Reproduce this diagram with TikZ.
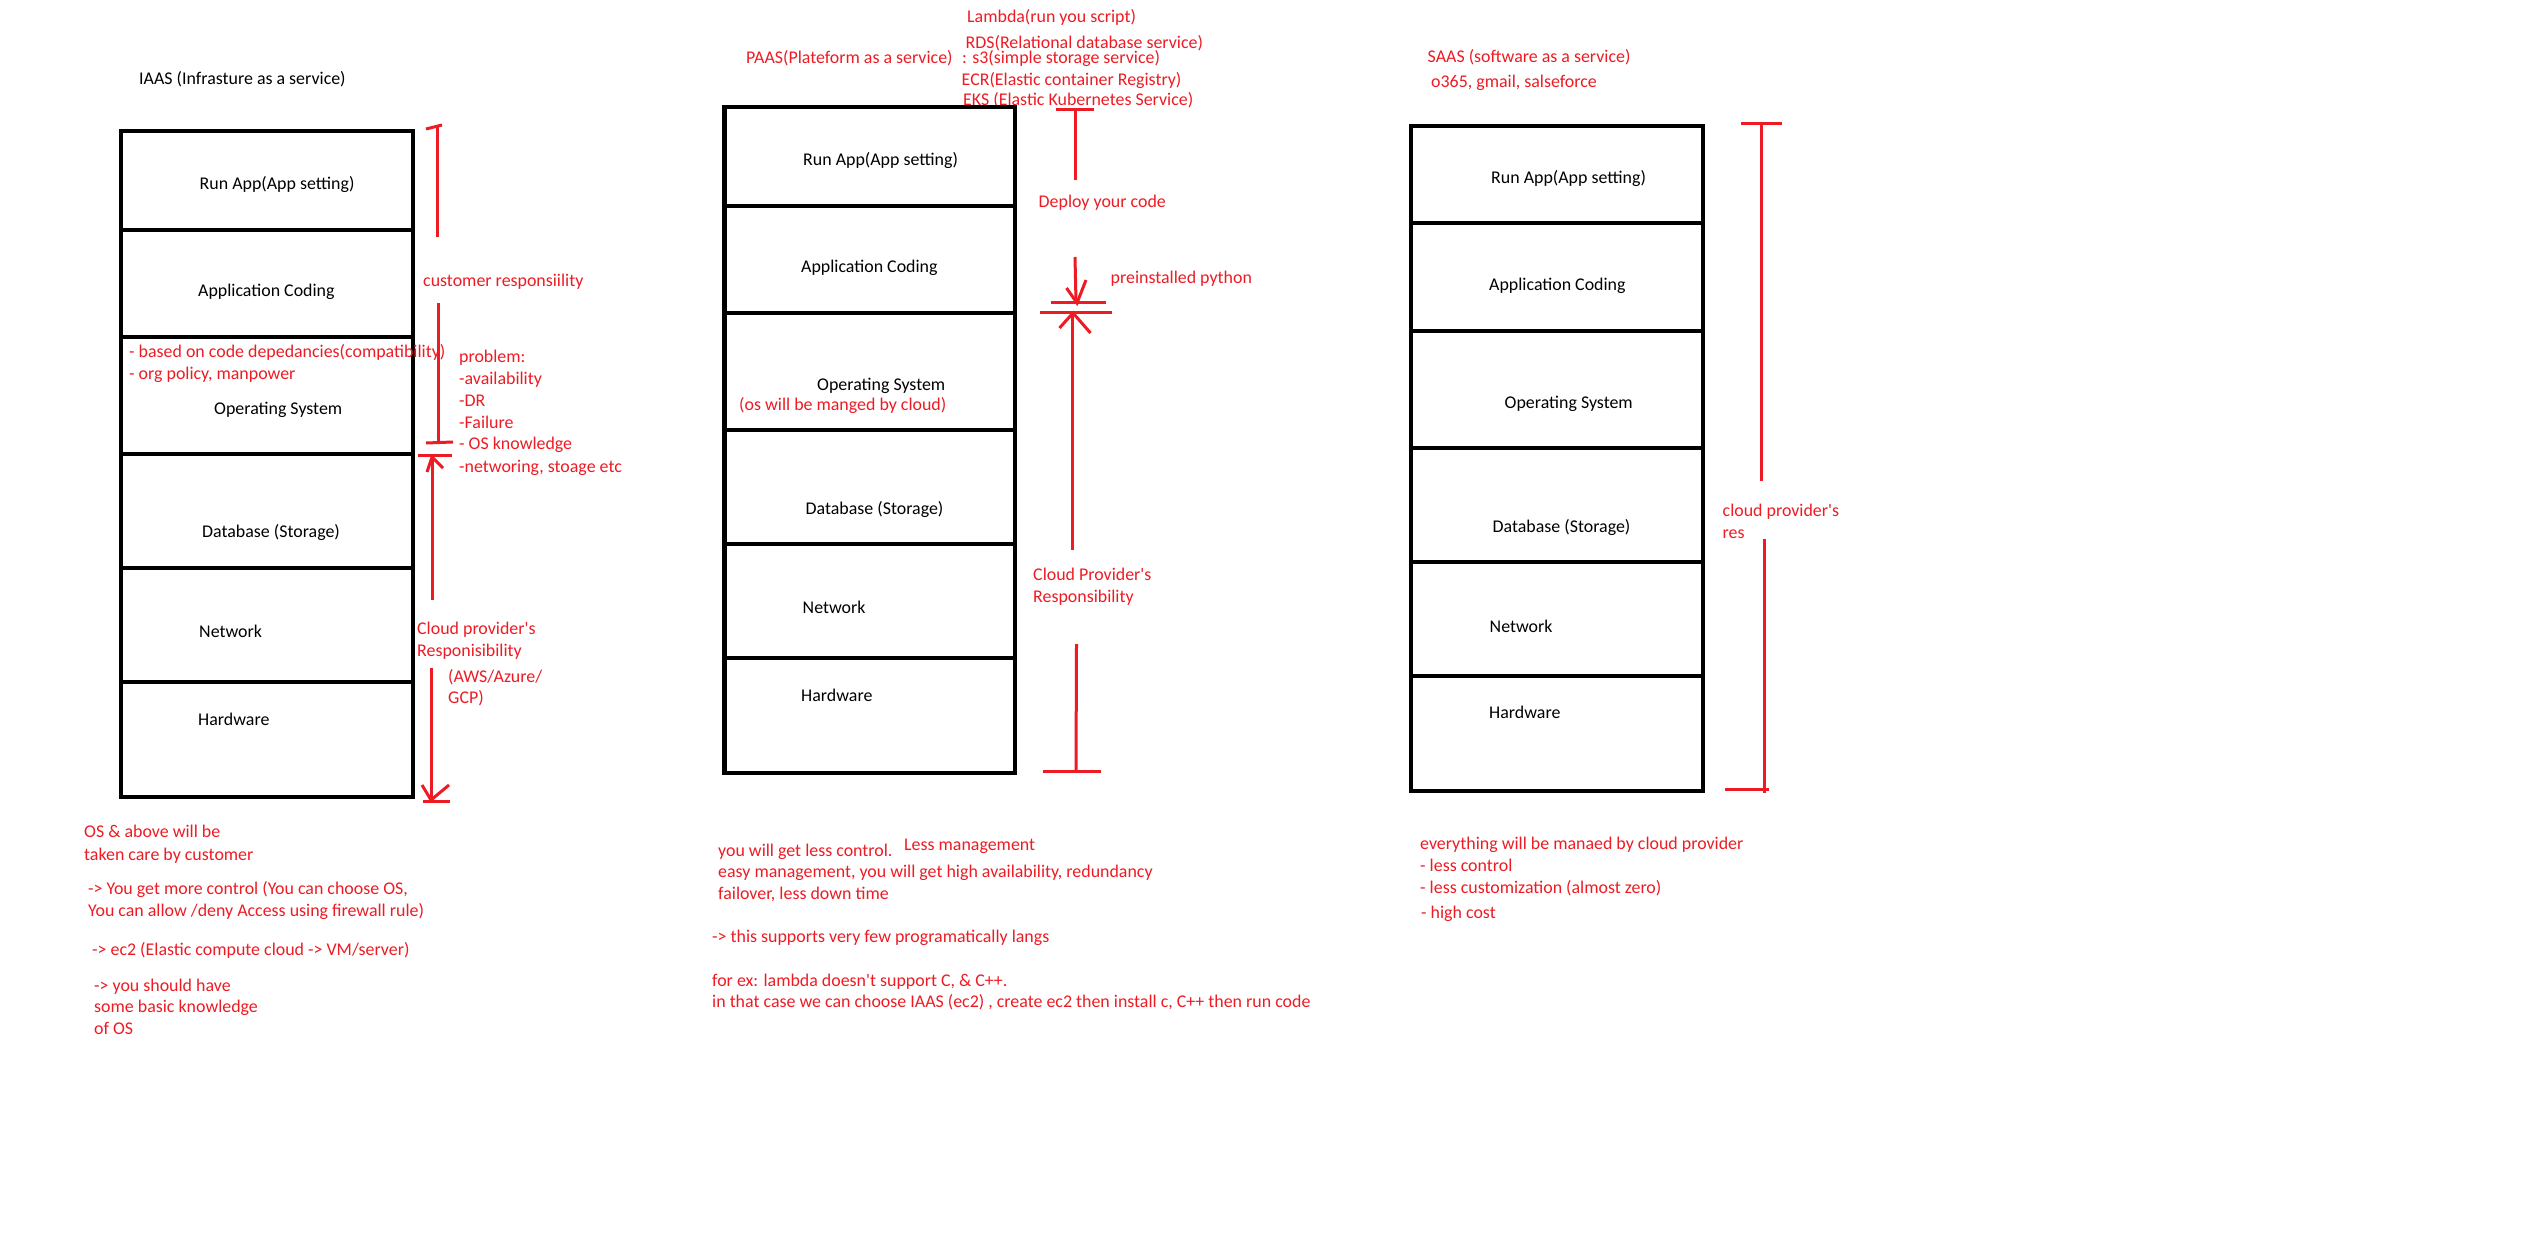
\documentclass[tikz,border=0pt]{standalone}
\usepackage{fontspec}
\setmainfont{Carlito}
\definecolor{pred}{HTML}{ED1C24}
\begin{document}
\begin{tikzpicture}[x=1pt,y=-1pt,
  txt/.style={anchor=west, inner sep=0pt, font=\fontsize{17.9}{21}\selectfont, text height=13pt, text depth=4pt},
  blk/.style={txt, text=black},
  rtx/.style={txt, text=pred},
  frame/.style={line width=4.5pt, draw=black},
  rline/.style={line width=3pt, draw=pred},
]
\useasboundingbox[fill=white] (0,0) rectangle (2526,1236);

% ================= IAAS =================
\node[blk] (iaasT) at (139,80) {IAAS (Infrasture as a service)};
\draw[frame] (121,131) rectangle (413,797);
\foreach \yy in {230,337,454,568,682} \draw[frame] (121,\yy) -- (413,\yy);
\node[blk] (iRun) at (199.5,185) {Run App(App setting)};
\node[blk] (iCod) at (198,292) {Application Coding};
\node[blk] (iOS)  at (214,410) {Operating System};
\node[blk] (iDB)  at (202,533) {Database (Storage)};
\node[blk] (iNet) at (199,633) {Network};
\node[blk] (iHw)  at (198,721) {Hardware};

\node[rtx] (iDep) at (129,353) {- based on code depedancies(compatibility)};
\node[rtx] (iOrg) at (129,375) {- org policy, manpower};
\node[rtx] (iCust) at (423,282) {customer responsiility};
\node[rtx] (iP1) at (459,358) {problem:};
\node[rtx] (iP2) at (459,380) {-availability};
\node[rtx] (iP3) at (459,402) {-DR};
\node[rtx] (iP4) at (459,423.5) {-Failure};
\node[rtx] (iP5) at (459,445) {- OS knowledge};
\node[rtx] (iP6) at (459,468) {-networing, stoage etc};
\node[rtx] (iCP1) at (417,630) {Cloud provider\textquotesingle s};
\node[rtx] (iCP2) at (417,652) {Responisibility};
\node[rtx] (iAws1) at (448,678) {(AWS/Azure/};
\node[rtx] (iAws2) at (448,699) {GCP)};

\draw[rline] (426,129) -- (442,125);
\draw[rline] (437,127) -- (437,237);
\draw[rline] (438,303) -- (438,443);
\draw[rline] (426,443) -- (453,442);
\draw[rline] (418,455) -- (452,455);
\draw[rline] (432,600) -- (432,457);
\draw[rline] (427,472) -- (432,457) -- (443,468);
\draw[rline] (431,668) -- (431,800);
\draw[rline] (422,785) -- (431,800) -- (449,785);
\draw[rline] (423,801) -- (450,801);

\node[rtx] (iB1) at (84,833) {OS \& above will be};
\node[rtx] (iB2) at (84,856) {taken care by customer};
\node[rtx] (iB3) at (88,890) {-> You get more control (You can choose OS,};
\node[rtx] (iB4) at (88,912) {You can allow /deny Access using firewall rule)};
\node[rtx] (iB5) at (92,951) {-> ec2 (Elastic compute cloud -> VM/server)};
\node[rtx] (iB6) at (94,987) {-> you should have};
\node[rtx] (iB7) at (94,1008) {some basic knowledge};
\node[rtx] (iB8) at (94,1030) {of OS};

% ================= PAAS =================
\node[rtx] (pLam) at (967,18) {Lambda(run you script)};
\node[rtx] (pRds) at (965.5,44) {RDS(Relational database service)};
\node[rtx] (pT)   at (746,59) {PAAS(Plateform as a service)};
\node[rtx] (pS3)  at (962,59) {: s3(simple storage service)};
\node[rtx] (pEcr) at (961.5,81) {ECR(Elastic container Registry)};
\node[rtx] (pEks) at (963,101) {EKS (Elastic Kubernetes Service)};

\draw[frame] (724.5,107) rectangle (1015,773);
\foreach \yy in {206,313,430,544,658} \draw[frame] (724.5,\yy) -- (1015,\yy);
\node[blk] (pRun) at (803,161) {Run App(App setting)};
\node[blk] (pCod) at (801,268) {Application Coding};
\node[blk] (pOS)  at (817,386) {Operating System};
\node[rtx] (pOSc) at (739,406) {(os will be manged by cloud)};
\node[blk] (pDB)  at (805.5,510) {Database (Storage)};
\node[blk] (pNet) at (802.5,609) {Network};
\node[blk] (pHw)  at (801,697) {Hardware};

\node[rtx] (pDep) at (1038.5,203) {Deploy your code};
\node[rtx] (pPy)  at (1110.5,279) {preinstalled python};
\node[rtx] (pCP1) at (1033,576) {Cloud Provider\textquotesingle s};
\node[rtx] (pCP2) at (1033,598) {Responsibility};

\draw[rline] (1056,110) -- (1094,110);
\draw[rline] (1075,110) -- (1075,180);
\draw[rline] (1075,257) -- (1076,302);
\draw[rline] (1066.5,288) -- (1077,303) -- (1086,280);
\draw[rline] (1050.5,302) -- (1105.5,302);
\draw[rline] (1039.5,312) -- (1112,312);
\draw[rline] (1072,313) -- (1072,550);
\draw[rline] (1059.5,328) -- (1073,313) -- (1090.5,333);
\draw[rline] (1076.5,644) -- (1076,771);
\draw[rline] (1043,771) -- (1101,771);

\node[rtx] (pB1) at (718,852) {you will get less control.};
\node[rtx] (pB2) at (904,846) {Less management};
\node[rtx] (pB3) at (718,873) {easy management, you will get high availability, redundancy};
\node[rtx] (pB4) at (718,895) {failover, less down time};
\node[rtx] (pB5) at (712,938) {-> this supports very few programatically langs};
\node[rtx] (pB6) at (712,982) {for ex: lambda doesn\textquotesingle t support C, \& C++.};
\node[rtx] (pB7) at (712,1003) {in that case we can choose IAAS (ec2) , create ec2 then install c, C++ then run code};

% ================= SAAS =================
\node[rtx] (sT)  at (1427.5,58) {SAAS (software as a service)};
\node[rtx] (sEx) at (1431,83) {o365, gmail, salseforce};
\draw[frame] (1411,126) rectangle (1703,791);
\foreach \yy in {223,331,448,562,676} \draw[frame] (1411,\yy) -- (1703,\yy);
\node[blk] (sRun) at (1491,179) {Run App(App setting)};
\node[blk] (sCod) at (1489,286) {Application Coding};
\node[blk] (sOS)  at (1504.5,404) {Operating System};
\node[blk] (sDB)  at (1492.5,528) {Database (Storage)};
\node[blk] (sNet) at (1489.5,628) {Network};
\node[blk] (sHw)  at (1489,714) {Hardware};

\node[rtx] (sCP1) at (1722.5,512) {cloud provider\textquotesingle s};
\node[rtx] (sCP2) at (1722.5,534) {res};
\draw[rline] (1741,124) -- (1782,124);
\draw[rline] (1761,122) -- (1761,481);
\draw[rline] (1764,539) -- (1764,793);
\draw[rline] (1725,789) -- (1769,789);

\node[rtx] (sB1) at (1420,845) {everything will be manaed by cloud provider};
\node[rtx] (sB2) at (1420,867) {- less control};
\node[rtx] (sB3) at (1420,889) {- less customization (almost zero)};
\node[rtx] (sB4) at (1421,914) {- high cost};
\end{tikzpicture}
\end{document}
